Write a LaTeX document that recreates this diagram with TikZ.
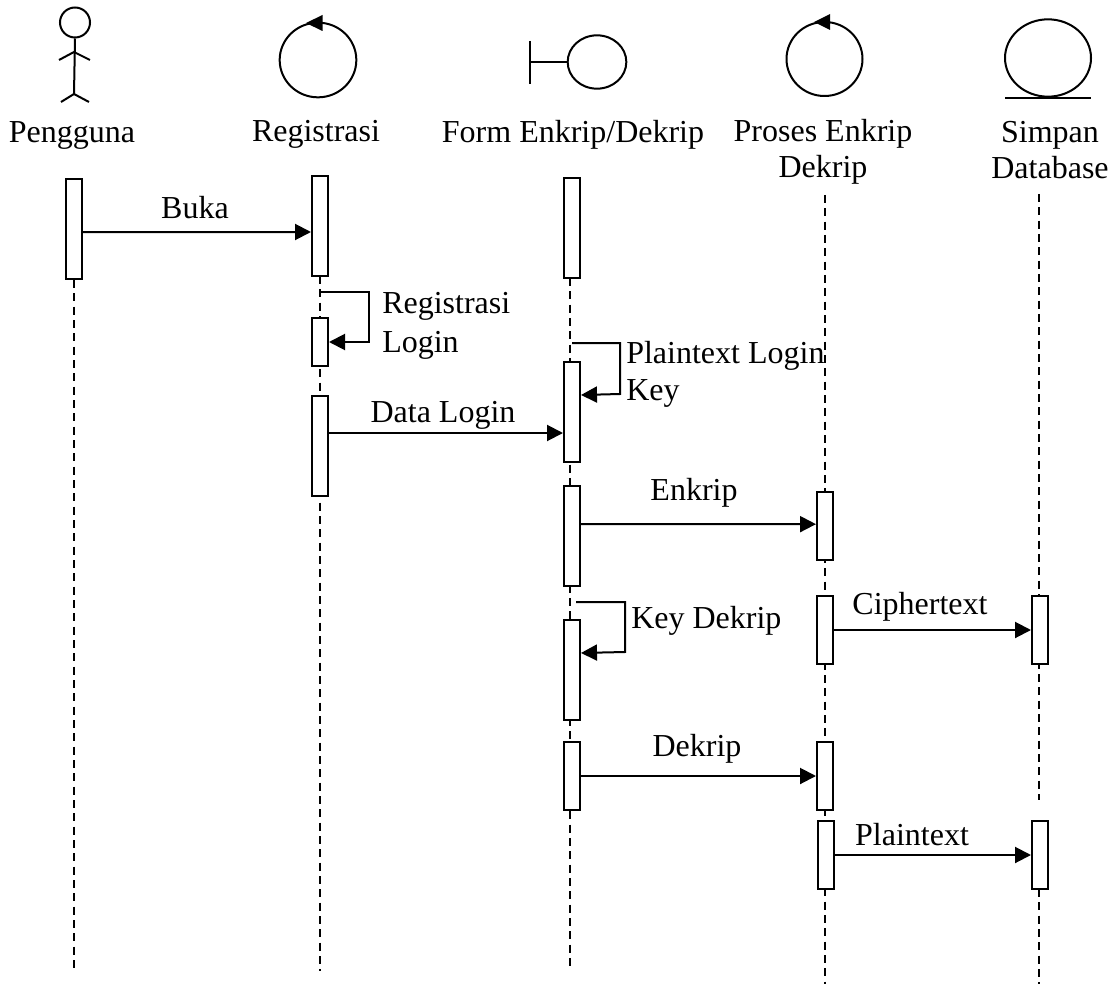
\documentclass[tikz,border=0pt]{standalone}
\usepackage{fontspec}
\setmainfont{Liberation Serif}
\usetikzlibrary{arrows.meta,shapes.geometric}

\begin{document}
\begin{tikzpicture}[
  x=0.75pt, y=-0.75pt,
  >={Triangle[length=12pt,width=12pt]},
  symb/.style={ellipse, draw, line width=1.5pt, fill=white, inner sep=0pt},
  stroke/.style={line width=1.5pt},
  life/.style={line width=1.2pt, dash pattern=on 6pt off 4pt},
  bar/.style={rectangle, draw, line width=1.5pt, fill=white, inner sep=0pt, minimum width=12pt},
  arr/.style={->, line width=1.5pt},
  lbl/.style={inner sep=0pt, anchor=base, font=\fontsize{24}{27.4}\selectfont, align=center},
  lbll/.style={inner sep=0pt, anchor=base west, font=\fontsize{24}{27.4}\selectfont},
]
\useasboundingbox (0,0) rectangle (1117,984);

\coordinate (penggunaTop) at (74,280);
\coordinate (penggunaEnd) at (74,972);
\coordinate (registrasiTop) at (320,276);
\coordinate (registrasiEnd) at (320,971);
\coordinate (formTop) at (570,278);
\coordinate (formEnd) at (570,970);
\coordinate (prosesTop) at (825,195);
\coordinate (prosesEnd) at (825,984);
\coordinate (simpanTop) at (1039,194);
\coordinate (simpanMid) at (1039,800);
\coordinate (simpanLow) at (1039,889);
\coordinate (simpanEnd) at (1039,984);

\draw[life] (penggunaTop) -- (penggunaEnd);
\draw[life] (registrasiTop) -- (registrasiEnd);
\draw[life] (formTop) -- (formEnd);
\draw[life] (prosesTop) -- (prosesEnd);
\draw[life] (simpanTop) -- (simpanMid);
\draw[life] (simpanLow) -- (simpanEnd);

% symbols
\node[symb, minimum width=22.5pt, minimum height=22.5pt] (head) at (75,22.5) {};
\coordinate (hip) at (74,94);
\coordinate (arm) at (74,52);
\draw[stroke] (head.south) -- (hip);
\draw[stroke] (59,60) -- (arm) -- (90,60);
\draw[stroke] (61,102) -- (hip) -- (89,102);

\node[symb, minimum width=57.5pt, minimum height=56pt] (ctrla) at (318,60) {};
\fill (306,23) -- (322.5,15) -- (322.5,31) -- cycle;

\node[symb, minimum width=44pt, minimum height=40pt] (bound) at (597,62) {};
\coordinate (boundl) at (530,62);
\draw[stroke] (530,41) -- (530,84);
\draw[stroke] (boundl) -- (bound.west);

\node[symb, minimum width=57pt, minimum height=55.5pt] (ctrlb) at (824.5,59) {};
\fill (814,22) -- (830,14) -- (830,30) -- cycle;

\node[symb, minimum width=64.5pt, minimum height=58pt] (entity) at (1048,58) {};
\draw[stroke] (1005,98) -- (1091,98);

% captions
\node[lbl] (penggunaLbl) at (72,143) {Pengguna};
\node[lbl] (registrasiLbl) at (316,142) {Registrasi};
\node[lbl] (formLbl) at (573,143) {Form Enkrip/Dekrip};
\node[lbl] (prosesLbl) at (823,178) {Proses Enkrip\\Dekrip};
\node[lbl] (simpanLbl) at (1050,179) {Simpan\\Database};

% activation bars
\node[bar, minimum height=75pt] (penggunaA) at (74,229.5) {};
\node[bar, minimum height=75pt] (registrasiA) at (320,226) {};
\node[bar, minimum height=36pt] (registrasiB) at (320,342) {};
\node[bar, minimum height=75pt] (registrasiC) at (320,446) {};
\node[bar, minimum height=75pt] (formA) at (572,228) {};
\node[bar, minimum height=75pt] (formB) at (572,412) {};
\node[bar, minimum height=75pt] (formC) at (572,536) {};
\node[bar, minimum height=75pt] (formD) at (572,669.5) {};
\node[bar, minimum height=51pt] (formE) at (572,776) {};
\node[bar, minimum height=51pt] (prosesA) at (825,525.5) {};
\node[bar, minimum height=51pt] (prosesB) at (825,630) {};
\node[bar, minimum height=51pt] (prosesC) at (825,776) {};
\node[bar, minimum height=51pt] (prosesD) at (826,855) {};
\node[bar, minimum height=51pt] (simpanA) at (1040,630) {};
\node[bar, minimum height=51pt] (simpanB) at (1040,855) {};

\coordinate (loopa) at (320,292);
\coordinate (loopb) at (572,343);
\coordinate (loopc) at (576,602);

% messages
\draw[arr] ([yshift=-1.9pt]penggunaA.east) -- ([yshift=-4.5pt]registrasiA.west);
\draw[arr] (loopa) -- ++(49,0) -- ++(0,50) -- (registrasiB.east);
\draw[arr] ([yshift=9.75pt]registrasiC.east) -- ([yshift=-15.75pt]formB.west);
\draw[arr] (loopb) -- ++(48,0) -- ++(0,51) -- ([yshift=12.75pt]formB.east);
\draw[arr] ([yshift=9pt]formC.east) -- ([yshift=1pt]prosesA.west);
\draw[arr] (loopc) -- ++(49,0) -- ++(0,50) -- ([yshift=12.4pt]formD.east);
\draw[arr] (prosesB) -- (simpanA);
\draw[arr] (formE) -- (prosesC);
\draw[arr] (prosesD) -- (simpanB);

% message labels
\node[lbl] (buka) at (195,219) {Buka};
\node[lbll] (regLogin) at (382,313) {Registrasi};
\node[lbll] (login) at (382,352) {Login};
\node[lbl] (dataLogin) at (443,422) {Data Login};
\node[lbll] (plainLogin) at (626,363) {Plaintext Login};
\node[lbll] (key) at (626,400) {Key};
\node[lbl] (enkrip) at (694,500) {Enkrip};
\node[lbll] (keyDekrip) at (631,628) {Key Dekrip};
\node[lbl] (cipher) at (920,614) {Ciphertext};
\node[lbl] (dekrip) at (697,756) {Dekrip};
\node[lbl] (plain) at (912,845) {Plaintext};

\end{tikzpicture}
\end{document}
